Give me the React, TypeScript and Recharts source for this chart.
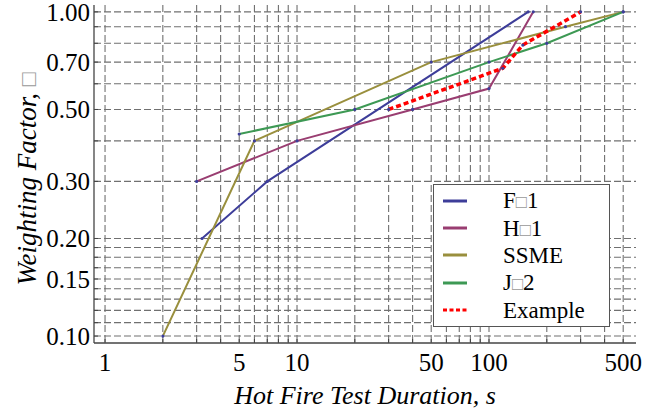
import { LineChart, Line, XAxis, YAxis, CartesianGrid, Legend } from "recharts";

// series values
const f1X = [3.2, 7, 160];
const f1Y = [0.2, 0.3, 1.0];
const h1X = [3, 10, 40, 100, 170];
const h1Y = [0.3, 0.4, 0.5, 0.58, 1.0];
const ssmeX = [2, 6, 50, 250, 500];
const ssmeY = [0.1, 0.4, 0.7, 0.9, 1.0];
const j2X = [5, 20, 100, 200, 500];
const j2Y = [0.42, 0.5, 0.7, 0.8, 1.0];
const exX = [30, 118, 150, 300];
const exY = [0.5, 0.67, 0.79, 1.0];

// ticks and grid
const xLabels = [1, 5, 10, 50, 100, 500];
const yLabels = [0.1, 0.15, 0.2, 0.3, 0.5, 0.7, 1.0];
const xGrid = [1, 2, 3, 4, 5, 6, 7, 8, 9, 10, 20, 30, 40, 50, 60, 70, 80, 90, 100, 200, 300, 400, 500];
const yGrid = [0.1, 0.11, 0.12, 0.13, 0.14, 0.15, 0.1625, 0.175, 0.1875, 0.2, 0.3, 0.4, 0.5, 0.6, 0.7, 0.8, 0.9, 1.0];

const zip = (xs: number[], ys: number[]) => xs.map((x, i) => ({ x, y: ys[i] }));

const BOX = "\u25A1";
const SERIES = [
  { key: "F1", name: `F${BOX}1`, data: zip(f1X, f1Y), color: "#3d3d99", width: 2, dash: undefined },
  { key: "H1", name: `H${BOX}1`, data: zip(h1X, h1Y), color: "#993d71", width: 2, dash: undefined },
  { key: "SSME", name: "SSME", data: zip(ssmeX, ssmeY), color: "#998f3d", width: 2, dash: undefined },
  { key: "J2", name: `J${BOX}2`, data: zip(j2X, j2Y), color: "#3d9954", width: 2, dash: undefined },
  { key: "Example", name: "Example", data: zip(exX, exY), color: "#ff0000", width: 3.5, dash: "5 3" },
];

const FONT = "'Liberation Serif', 'Times New Roman', serif";

function withBox(text: string) {
  return text.split(BOX).flatMap((part, i) =>
    i === 0 ? [part] : [<span key={i} style={{ color: "#999", fontSize: "0.8em" }}>{BOX}</span>, part]
  );
}

function LegendBox() {
  return (
    <div style={{
      width: 177, height: 143, boxSizing: "border-box", border: "1.3px solid #555",
      background: "#fff", paddingTop: 2, fontFamily: FONT, fontSize: 23, color: "#000",
    }}>
      {SERIES.map(s => (
        <div key={s.key} style={{ display: "flex", alignItems: "center", height: 27.4 }}>
          <svg width={69} height={10} style={{ flex: "none" }}>
            <line x1={9} x2={33} y1={5} y2={5} stroke={s.color} strokeWidth={3}
              strokeDasharray={s.dash ? "4 2.5" : undefined} />
          </svg>
          <span style={{ lineHeight: 1 }}>{withBox(s.name)}</span>
        </div>
      ))}
    </div>
  );
}

const tickStyle = { fontFamily: FONT, fontSize: 25, fill: "#000" };

export default function App() {
  return (
    <div style={{ position: "absolute", left: 0, top: 0, width: 662, height: 412, background: "#fff" }}>
      <LineChart width={662} height={412} margin={{ top: 5, right: 26, bottom: 0, left: 0 }}>
        <CartesianGrid horizontalValues={yGrid} verticalValues={xGrid}
          stroke="#707070" strokeWidth={1.1} strokeDasharray="7 3" />
        <XAxis dataKey="x" type="number" scale="log" domain={[0.876, 583]} allowDataOverflow
          ticks={xGrid} interval={0} height={69} tickSize={-4} tickMargin={14}
          tickFormatter={v => (xLabels.includes(v) ? String(v) : "")}
          tick={tickStyle} stroke="#444" axisLine={{ stroke: "#444", strokeWidth: 1.3 }}
          tickLine={{ stroke: "#444" }}
          label={(props: any) => {
            const vb = props.viewBox;
            return (
              <text x={vb.x + vb.width / 2} y={404} textAnchor="middle"
                style={{ fontFamily: FONT, fontSize: 26, fontStyle: "italic" }} fill="#000">
                Hot Fire Test Duration, s
              </text>
            );
          }} />
        <XAxis xAxisId="top" dataKey="x" type="number" scale="log" domain={[0.876, 583]} allowDataOverflow
          orientation="top" height={0} tick={false} tickLine={false}
          axisLine={{ stroke: "#444", strokeWidth: 1.3 }} />
        <YAxis type="number" scale="log" domain={[0.0952, 1.05]} allowDataOverflow
          ticks={yGrid} interval={0} width={94} tickSize={-4} tickMargin={8}
          tickFormatter={v => (yLabels.includes(v) ? v.toFixed(2) : "")}
          tick={tickStyle} axisLine={{ stroke: "#444", strokeWidth: 1.3 }} tickLine={{ stroke: "#444" }}
          label={(props: any) => {
            const vb = props.viewBox;
            const cy = vb.y + vb.height / 2 + 5;
            return (
              <text x={36} y={cy} transform={`rotate(-90, 36, ${cy})`} textAnchor="middle"
                style={{ fontFamily: FONT, fontSize: 27, fontStyle: "italic" }} fill="#000">
                Weighting Factor, <tspan fill="#999" style={{ fontStyle: "normal", fontSize: 23 }}>{BOX}</tspan>
              </text>
            );
          }} />
        <YAxis yAxisId="right" type="number" scale="log" domain={[0.0952, 1.05]} allowDataOverflow
          orientation="right" width={0} tick={false} tickLine={false}
          axisLine={{ stroke: "#444", strokeWidth: 1.3 }} />
        {SERIES.map(s => (
          <Line key={s.key} data={s.data} dataKey="y" name={s.name} type="linear"
            stroke={s.color} strokeWidth={s.width} strokeDasharray={s.dash}
            dot={{ r: 1.6, fill: "#3d3d99", stroke: "none", strokeDasharray: "" }}
            activeDot={false} isAnimationActive={false} />
        ))}
        <Legend layout="vertical" align="center" verticalAlign="middle" content={() => <LegendBox />}
          wrapperStyle={{ left: 433, top: 184, width: 177, height: 143 }} />
      </LineChart>
    </div>
  );
}
